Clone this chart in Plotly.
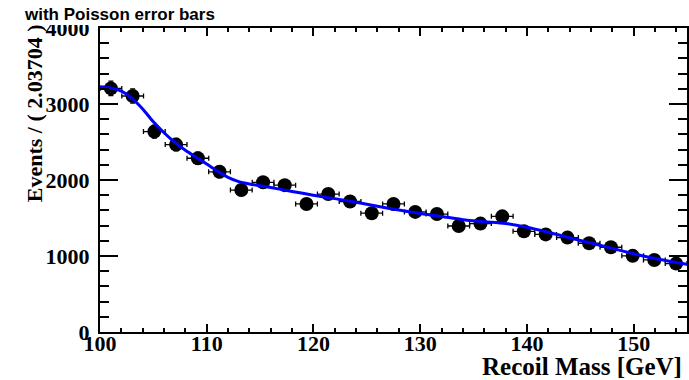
import plotly.graph_objects as go

# ---- data ----
bin_centers = [101.02, 103.06, 105.09, 107.13, 109.17, 111.20, 113.24, 115.28, 117.31,
               119.35, 121.39, 123.43, 125.46, 127.50, 129.54, 131.57, 133.61, 135.65,
               137.69, 139.72, 141.76, 143.80, 145.83, 147.87, 149.91, 151.94, 153.98]
events = [3205, 3105, 2637, 2466, 2286, 2108, 1868, 1970, 1932, 1685, 1815, 1717, 1563,
          1685, 1580, 1552, 1395, 1426, 1522, 1325, 1284, 1242, 1168, 1115, 1002, 948, 900]
event_err = [95, 93, 85, 82, 80, 77, 72, 74, 73, 68, 71, 69, 66, 68, 66, 65, 62, 63, 65,
             61, 60, 59, 57, 56, 53, 52, 50]
bin_half_width = 1.01852

fit_x = [100, 101, 102, 103, 104, 105, 106, 107, 108, 109, 110, 111, 112, 113, 114, 115,
         116, 118, 120, 122, 124, 126, 128, 130, 132, 134, 136, 138, 140, 142, 144, 146,
         148, 150, 152, 154, 155]
fit_y = [3228, 3212, 3168, 3075, 2935, 2765, 2622, 2497, 2392, 2300, 2210, 2117, 2035,
         1978, 1947, 1925, 1900, 1850, 1800, 1755, 1708, 1655, 1605, 1560, 1520, 1478,
         1452, 1428, 1378, 1312, 1240, 1170, 1100, 1030, 966, 914, 890]

x_ticks = [100, 110, 120, 130, 140, 150]
y_ticks = [0, 1000, 2000, 3000, 4000]

W, H = 689, 380
L, R, T, B = 100, 0, 28, 48
pw, ph = W - L - R, H - T - B

def px_x(p):
    return (p - L) / pw

def px_y(p):
    return (H - B - p) / ph

fig = go.Figure()
fig.add_trace(go.Scatter(
    x=bin_centers, y=events, mode="markers",
    marker=dict(symbol="circle", size=14, color="black"),
    error_y=dict(type="data", array=event_err, color="black", thickness=1.3, width=2.5),
    error_x=dict(type="constant", value=bin_half_width, color="black", thickness=1.3, width=2.5),
    showlegend=False, hoverinfo="skip"))
fig.add_trace(go.Scatter(
    x=fit_x, y=fit_y, mode="lines",
    line=dict(color="#0000ff", width=3, shape="spline", smoothing=0.8),
    showlegend=False, hoverinfo="skip"))

tickfont = dict(family="Liberation Serif", size=22, color="black", weight="bold")
common = dict(showgrid=False, zeroline=False, showline=True, linewidth=2, linecolor="black",
              mirror="allticks", ticks="inside", tickcolor="black", tickwidth=2,
              tickfont=tickfont)
fig.update_xaxes(range=[100, 155], tickvals=x_ticks, ticklen=8,
                 minor=dict(dtick=2, tick0=100, ticklen=4, ticks="inside", tickcolor="black",
                            tickwidth=2, showgrid=False),
                 ticklabelstandoff=-9, **common)
fig.update_yaxes(range=[0, 4000], tickvals=y_ticks, ticklen=18,
                 minor=dict(dtick=200, tick0=0, ticklen=9, ticks="inside", tickcolor="black",
                            tickwidth=2, showgrid=False),
                 ticklabelstandoff=4, **common)

# white title box (covers the top of the "4000" label like the original)
fig.add_shape(type="rect", xref="paper", yref="paper",
              x0=px_x(0), x1=px_x(250), y0=px_y(25), y1=px_y(0),
              fillcolor="white", line=dict(width=0), layer="above")

fig.add_annotation(text="<b>with Poisson error bars</b>", xref="paper", yref="paper",
                   x=px_x(22), y=px_y(14), xanchor="left", yanchor="middle", showarrow=False,
                   font=dict(family="Liberation Sans", size=17, color="black", weight="bold"))
fig.add_annotation(text="<b>Events / ( 2.03704 )</b>", xref="paper", yref="paper",
                   x=px_x(35), y=px_y(113), xanchor="center", yanchor="middle",
                   textangle=-90, showarrow=False,
                   font=dict(family="Liberation Serif", size=22, color="black", weight="bold"))
fig.add_annotation(text="<b>Recoil Mass [GeV]</b>", xref="paper", yref="paper",
                   x=px_x(686), y=px_y(366), xanchor="right", yanchor="middle", showarrow=False,
                   font=dict(family="Liberation Serif", size=25, color="black", weight="bold"))

fig.update_layout(width=W, height=H, margin=dict(l=L, r=R, t=T, b=B),
                  paper_bgcolor="white", plot_bgcolor="white")
fig.write_html("out.html")
